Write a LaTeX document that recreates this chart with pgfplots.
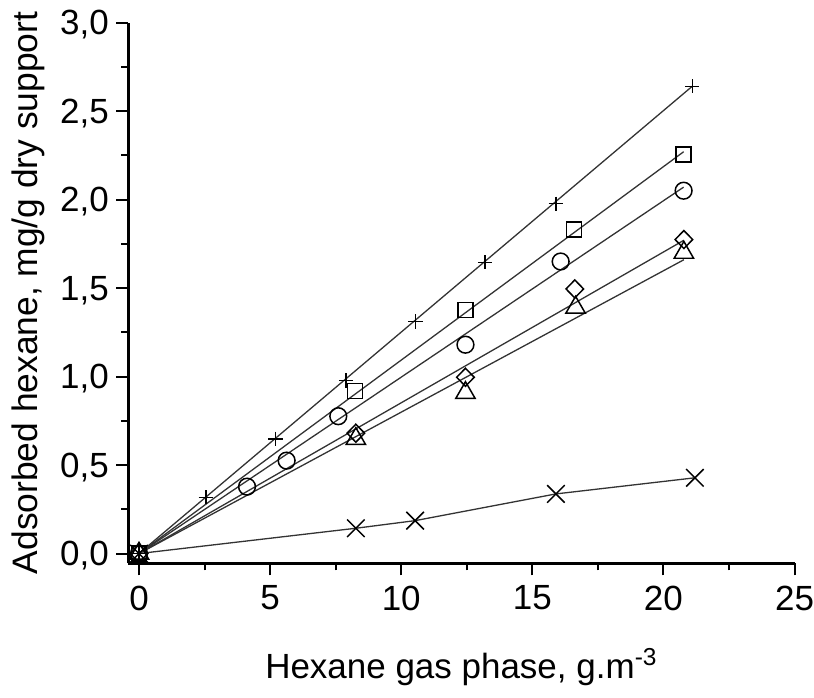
\documentclass[border=0pt]{standalone}
\usepackage{fontspec}
\setmainfont{Liberation Sans}
\usepackage{pgfplots}
\pgfplotsset{compat=1.18}
\begin{document}
\fontsize{17.5}{21}\selectfont
\begin{tikzpicture}
\begin{axis}[
  scale only axis, width=333.3pt, height=270.5pt,
  xmin=-0.41, xmax=25, ymin=-0.055, ymax=3,
  axis x line*=bottom, axis y line*=left,
  axis line style={line width=1.3pt, black},
  xtick={0,5,10,15,20,25}, minor xtick={2.5,7.5,12.5,17.5,22.5},
  ytick={0,0.5,1,1.5,2,2.5,3}, minor ytick={0.25,0.75,1.25,1.75,2.25,2.75},
  tick align=outside, major tick length=6pt, minor tick length=3.5pt,
  every tick/.style={line width=1pt, black},
  /pgf/number format/assume math mode=true,
  yticklabel style={/pgf/number format/use comma, /pgf/number format/fixed, /pgf/number format/fixed zerofill, /pgf/number format/precision=1},
  yticklabel style={anchor=east, text depth=0pt, inner sep=0pt, xshift=-3.5pt},
  xticklabel style={anchor=north, inner sep=0pt, yshift=-5pt},
  xlabel={Hexane gas phase, g.m\textsuperscript{-3}},
  ylabel={\fontsize{17.7}{21}\selectfont Adsorbed hexane, mg/g dry support},
  xlabel style={at={(axis description cs:0.5,-0.2126)}, anchor=base},
  ylabel style={at={(axis description cs:-0.1365,0.5)}, anchor=base},
  every axis plot/.append style={black},
  clip=false,
]
% fitted lines
\addplot[line width=0.65pt, color=black!80, no marks] coordinates {(0,0) (21.1,2.64)};
\addplot[line width=0.65pt, color=black!80, no marks] coordinates {(0,0) (20.77,2.27)};
\addplot[line width=0.65pt, color=black!80, no marks] coordinates {(0,0) (20.77,2.07)};
\addplot[line width=0.65pt, color=black!80, no marks] coordinates {(0,0) (20.78,1.77)};
\addplot[line width=0.65pt, color=black!80, no marks] coordinates {(0,0) (20.78,1.66)};
\addplot[line width=0.65pt, color=black!80, no marks] coordinates {(0,0) (8.27,0.143) (10.53,0.186) (15.9,0.337) (21.2,0.428)};
% markers
\addplot[only marks, mark=+, mark size=3.6pt, mark options={line width=0.7pt}] coordinates {
(0,0) (2.55,0.318) (5.21,0.648) (7.9,0.977) (10.55,1.31) (13.2,1.646) (15.9,1.976) (21.1,2.64)};
\addplot[only marks, mark=square, mark size=3.75pt, mark options={line width=0.65pt}] coordinates {
(0,0) (8.24,0.919) (12.45,1.377) (16.58,1.83) (20.77,2.254)};
\addplot[only marks, mark=o, mark size=4.2pt, mark options={line width=0.75pt}] coordinates {
(0,0) (4.12,0.378) (5.63,0.525) (7.6,0.776) (12.45,1.18) (16.08,1.65) (20.77,2.05)};
\addplot[only marks, mark=diamond, mark size=4.5pt, mark options={line width=0.75pt, xscale=1.3}] coordinates {
(0,0) (8.27,0.68) (12.45,0.996) (16.62,1.495) (20.78,1.774)};
\addplot[only marks, mark=triangle, mark size=5.6pt, mark options={line width=0.75pt}] coordinates {
(0,0) (8.27,0.648) (12.45,0.908) (16.65,1.39) (20.78,1.70)};
\addplot[only marks, mark=x, mark size=6.2pt, mark options={line width=0.75pt}] coordinates {
(0,0) (8.27,0.143) (10.53,0.186) (15.9,0.337) (21.2,0.428)};
\end{axis}
\end{tikzpicture}
\end{document}
